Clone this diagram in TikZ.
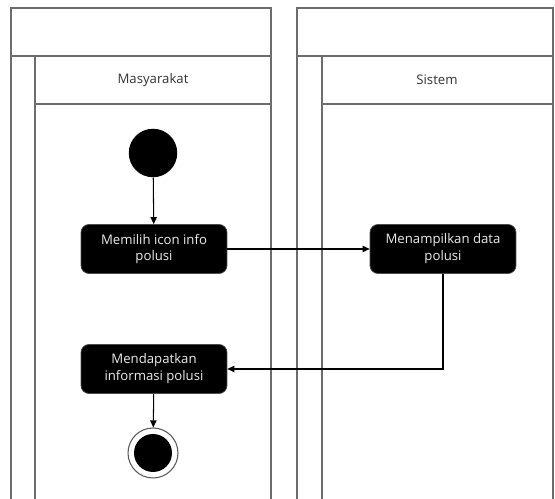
\documentclass[tikz,border=0pt]{standalone}
\usepackage{fontspec}
\setmainfont{Open Sans}
\usetikzlibrary{
  arrows.meta,
  positioning
}

\begin{document}
\begin{tikzpicture}[
      x=0.02cm, y=-0.02cm,
      >={Triangle[length=4pt,width=3.6pt]},
      garis/.style={draw=gray!85!black, line width=1pt},
      judul/.style={text=gray!40!black, font=\fontsize{7.5}{9}\selectfont},
      aksi/.style={draw=gray!60!black, fill=black, rounded corners=4.5pt,
                   minimum width=2.92cm, minimum height=0.98cm, inner sep=1pt,
                   align=center, text=white!85!gray,
                   font=\fontsize{7.5}{9.6}\selectfont},
      awal/.style={circle, fill=black, minimum size=0.97cm, inner sep=0pt},
      akhir/.style={circle, draw=gray!70!black, line width=0.6pt, fill=white,
                    minimum size=1cm, inner sep=0pt,
                    path picture={\fill[black] (path picture bounding box.center) circle (0.38cm);}},
      panah/.style={->, black, line width=0.6pt}
  ]
      \useasboundingbox (0,0) rectangle (555,499);

      % Kolam kiri
      \draw[garis] (11,499) -- (11,8) -- (271,8) -- (271,499);
      \draw[garis] (11,56) -- (271,56);
      \draw[garis] (35,56) -- (35,499);
      \draw[garis] (35,104) -- (271,104);
      \node[judul] (lmas) at (153,80) {Masyarakat};

      % Kolam kanan
      \draw[garis] (297,499) -- (297,8) -- (553,8) -- (553,499);
      \draw[garis] (297,56) -- (553,56);
      \draw[garis] (322,56) -- (322,499);
      \draw[garis] (322,104) -- (553,104);
      \node[judul] (lsis) at (437,80) {Sistem};

      % Aktivitas
      \node[awal] (mulai) at (153,153) {};
      \node[aksi] (pilih) at (154,249) {Memilih icon info\\polusi};
      \node[aksi] (tampil) at (443,249) {Menampilkan data\\polusi};
      \node[aksi] (dapat) at (154,369) {Mendapatkan\\informasi polusi};
      \node[akhir] (selesai) at (153,453) {};

      % Alur
      \draw[panah] (mulai) -- (pilih);
      \draw[panah] (pilih) -- (tampil);
      \draw[panah] (tampil.south) |- (dapat.east);
      \draw[panah] (dapat) -- (selesai);
  \end{tikzpicture}
\end{document}
